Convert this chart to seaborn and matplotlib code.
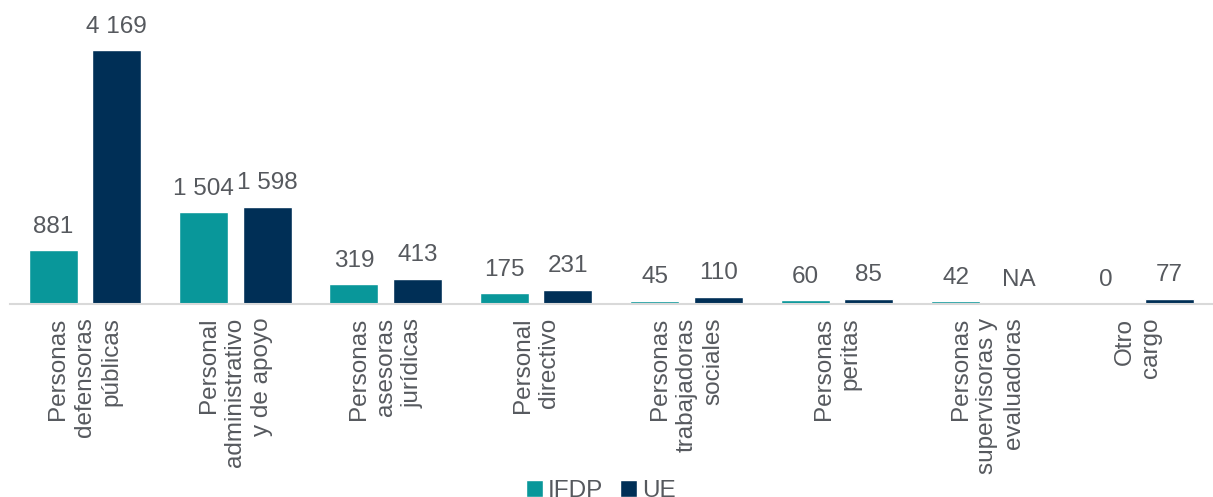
import numpy as np
import pandas as pd
import matplotlib
matplotlib.use("Agg")
import matplotlib.pyplot as plt
import seaborn as sns

## data
cargos = ["Personas\ndefensoras\npúblicas",
          "Personal\nadministrativo\ny de apoyo",
          "Personas\nasesoras\njurídicas",
          "Personal\ndirectivo",
          "Personas\ntrabajadoras\nsociales",
          "Personas\nperitas",
          "Personas\nsupervisoras y\nevaluadoras",
          "Otro\ncargo"]
ifdp = [881, 1504, 319, 175, 45, 60, 42, 0]
ue = [4169, 1598, 413, 231, 110, 85, None, 77]   # None = NA
grupos = ["IFDP", "UE"]
colores = ["#09979A", "#002F56"]

df = pd.DataFrame({
    "cargo": cargos * 2,
    "grupo": ["IFDP"] * len(cargos) + ["UE"] * len(cargos),
    "valor": ifdp + ue,
})
df["plot"] = df["valor"].fillna(0)

sns.set_style("white")
plt.rcParams["font.family"] = ["Liberation Sans", "DejaVu Sans"]

fig = plt.figure(figsize=(12.13, 4.97), dpi=100)
ax = fig.add_axes([0.008, 0.389, 0.992, 0.611])

sns.barplot(data=df, x="cargo", y="plot", hue="grupo", palette=colores,
            hue_order=grupos, order=cargos, width=0.845, gap=0.23,
            saturation=1, ax=ax, legend=True)

txt = "#56595E"
# value labels (NA for missing)
for cont, vals in zip(ax.containers, [ifdp, ue]):
    labs = ["NA" if v is None else f"{v:,}".replace(",", " ") for v in vals]
    ax.bar_label(cont, labels=labs, padding=9, fontsize=17.5, color=txt)

ax.set_ylim(0, 5000)
ax.set_xlim(-0.5, len(cargos) - 0.5)
ax.set_xlabel("")
ax.set_ylabel("")
ax.set_yticks([])
sns.despine(ax=ax, left=True)
ax.spines["bottom"].set_color("#D9D9D9")
ax.spines["bottom"].set_linewidth(1.5)
ax.tick_params(axis="x", length=0, pad=10, labelsize=17.5, labelcolor=txt)
for lab in ax.get_xticklabels():
    lab.set_rotation(90)
    lab.set_multialignment("right")
    lab.set_linespacing(1.26)

# legend at the bottom
handles, labels = ax.get_legend_handles_labels()
ax.get_legend().remove()
fig.legend(handles, labels, loc="center", bbox_to_anchor=(0.495, 0.012),
           ncol=2, frameon=False, fontsize=17.5, handlelength=0.7,
           handleheight=0.7, handletextpad=0.2, columnspacing=0.7,
           labelcolor=txt)

fig.savefig("out.png", dpi=100)
